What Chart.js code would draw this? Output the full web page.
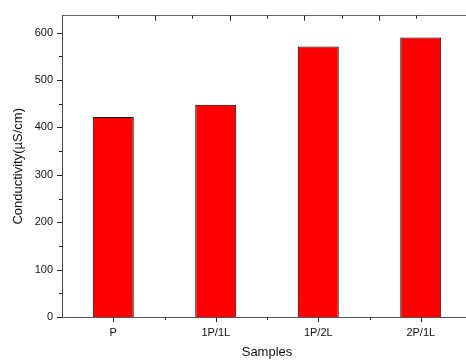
<!DOCTYPE html>
<html>
<head>
<meta charset="utf-8">
<script src="https://cdn.jsdelivr.net/npm/chart.js@4"></script>
<style>
  body { margin: 0; background: #fff; }
  #wrap { width: 466px; height: 360px; overflow: hidden; }
</style>
</head>
<body>
<div id="wrap"><canvas id="myChart" width="474" height="360"></canvas></div>
<script>
const samples = ['P', '1P/1L', '1P/2L', '2P/1L'];
const conductivity = [422, 448, 571, 590];
const yTicks = [0, 100, 200, 300, 400, 500, 600];
const yMax = 636;

// small tick marks like the Origin plot (major + minor)
const tickMarks = {
    id: 'tickMarks',
    afterDraw(chart) {
        const ctx = chart.ctx;
        const area = chart.chartArea;
        const x = chart.scales.x, y = chart.scales.y, top = chart.scales.top;
        ctx.save();
        ctx.strokeStyle = '#222';
        ctx.lineWidth = 1;
        ctx.beginPath();
        for (let v = 0; v <= yMax; v += 50) {
            const py = Math.round(y.getPixelForValue(v)) + 0.5;
            const len = v % 100 === 0 ? 5 : 3;
            ctx.moveTo(area.left, py);
            ctx.lineTo(area.left - len, py);
        }
        samples.forEach((s, i) => {
            const px = Math.round(x.getPixelForValue(i)) + 0.5;
            ctx.moveTo(px, area.bottom);
            ctx.lineTo(px, area.bottom + 5);
            const mx = Math.round(x.getPixelForValue(i + 0.5)) + 0.5;
            ctx.moveTo(mx, area.bottom);
            ctx.lineTo(mx, area.bottom + 3);
        });
        for (let k = 1; k < 10; k++) {
            const px = Math.round(top.getPixelForValue(k)) + 0.5;
            ctx.moveTo(px, area.top);
            ctx.lineTo(px, area.top + (k % 2 === 0 ? 5 : 3));
        }
        ctx.stroke();
        ctx.restore();
    }
};

const ctx = document.getElementById('myChart').getContext('2d');
new Chart(ctx, {
    type: 'bar',
    data: {
        labels: samples,
        datasets: [{
            data: conductivity,
            backgroundColor: '#ff0000',
            borderColor: '#000',
            borderWidth: 1,
            barPercentage: 0.4,
            categoryPercentage: 1
        }]
    },
    options: {
        responsive: false,
        animation: false,
        layout: { padding: { top: 14, right: 2, left: 0, bottom: 0 } },
        plugins: { legend: { display: false }, tooltip: { enabled: false } },
        scales: {
            x: {
                grid: { display: false, drawTicks: false },
                border: { color: '#555', width: 1 },
                ticks: { color: '#111', padding: 9, font: { family: 'Liberation Sans', size: 11 } },
                title: {
                    display: true, text: 'Samples', color: '#111',
                    font: { family: 'Liberation Sans', size: 13 },
                    padding: { top: 0, bottom: 0 }
                },
                afterFit: s => { s.height = 43; }
            },
            top: {
                type: 'linear', position: 'top', axis: 'x', min: 0, max: 10,
                grid: { display: false, drawTicks: false },
                border: { color: '#666', width: 1 },
                ticks: { display: false },
                afterFit: s => { s.height = 0; }
            },
            y: {
                min: 0, max: yMax,
                afterBuildTicks: s => { s.ticks = yTicks.map(v => ({ value: v })); },
                grid: { display: false, drawTicks: false },
                border: { color: '#444', width: 1 },
                ticks: { color: '#111', padding: 9, font: { family: 'Liberation Sans', size: 11 } },
                title: {
                    display: true, text: 'Conductivity(µS/cm)', color: '#111',
                    font: { family: 'Liberation Sans', size: 13 },
                    padding: { top: 11, bottom: 0 }
                },
                afterFit: s => { s.width = 62; }
            }
        }
    },
    plugins: [tickMarks]
});
</script>
</body>
</html>
